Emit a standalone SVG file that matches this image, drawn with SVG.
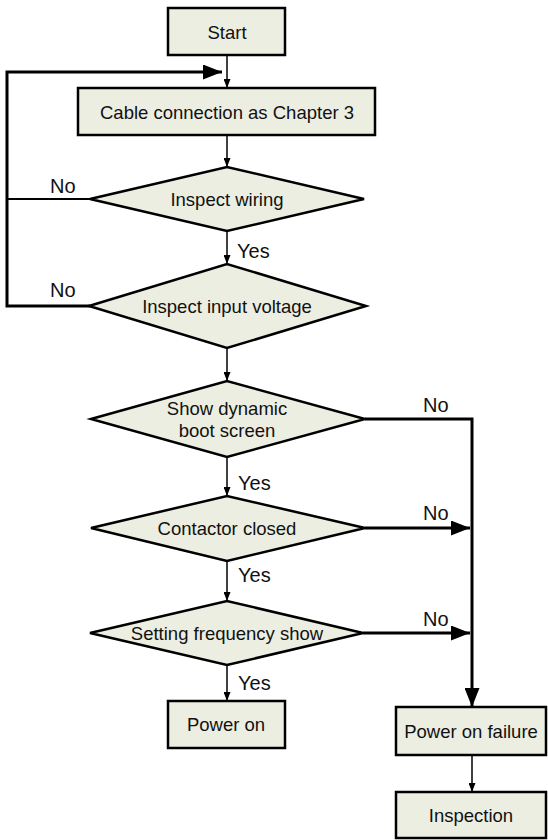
<svg xmlns="http://www.w3.org/2000/svg" width="548" height="840" viewBox="0 0 548 840">
<style>
.box{fill:#ECEEE2;stroke:#000;stroke-width:2.5}
.t{font-family:"Liberation Sans",Arial,sans-serif;font-size:18.5px;fill:#111;text-anchor:middle;dominant-baseline:central}
.lbl{font-family:"Liberation Sans",Arial,sans-serif;font-size:20px;fill:#111}
.thin{fill:none;stroke:#000;stroke-width:1.5}
.mid{fill:none;stroke:#000;stroke-width:2}
.thick{fill:none;stroke:#000;stroke-width:3}
</style>
<defs>
<marker id="sa" markerUnits="userSpaceOnUse" markerWidth="9" markerHeight="7" refX="9" refY="3.5" orient="auto"><path d="M0,0 L9,3.5 L0,7 z" fill="#000"/></marker>
<marker id="ba" markerUnits="userSpaceOnUse" markerWidth="19" markerHeight="15" refX="19" refY="7.5" orient="auto"><path d="M0,0 L19,7.5 L0,15 z" fill="#000"/></marker>
</defs>
<g id="connectors">
<path class="thin" d="M227,55 V88" marker-end="url(#sa)"/>
<path class="thick" d="M90,306 H7 V72 H222" marker-end="url(#ba)"/>
<path class="mid" d="M90,199 H7"/>
<path class="thin" d="M227,135 V167" marker-end="url(#sa)"/>
<path class="thin" d="M227,231 V264" marker-end="url(#sa)"/>
<path class="thin" d="M227,348 V381" marker-end="url(#sa)"/>
<path class="thin" d="M227,457 V496" marker-end="url(#sa)"/>
<path class="thin" d="M227,561 V601" marker-end="url(#sa)"/>
<path class="thin" d="M227,665 V701" marker-end="url(#sa)"/>
<path class="thick" d="M365,419 H472 V707" marker-end="url(#ba)"/>
<path class="thick" d="M365,528 H470" marker-end="url(#ba)"/>
<path class="thick" d="M363,633 H470" marker-end="url(#ba)"/>
<path class="thin" d="M472,755 V792" marker-end="url(#sa)"/>
<text class="lbl" x="50" y="193">No</text>
<text class="lbl" x="50" y="297">No</text>
<text class="lbl" x="237" y="258">Yes</text>
<text class="lbl" x="238" y="490">Yes</text>
<text class="lbl" x="238" y="582">Yes</text>
<text class="lbl" x="238" y="690">Yes</text>
<text class="lbl" x="423" y="412">No</text>
<text class="lbl" x="423" y="520">No</text>
<text class="lbl" x="423" y="626">No</text>
</g>
<g id="start"><rect class="box" x="168" y="8" width="117" height="47"/><text class="t" x="227" y="32">Start</text></g>
<g id="cable"><rect class="box" x="78" y="88" width="297" height="47"/><text class="t" x="227" y="112">Cable connection as Chapter 3</text></g>
<g id="inspect-wiring"><polygon class="box" points="90,199 227,167 364,199 227,231"/><text class="t" x="227" y="199">Inspect wiring</text></g>
<g id="inspect-voltage"><polygon class="box" points="89,306 227,264 366,306 227,348"/><text class="t" x="227" y="306">Inspect input voltage</text></g>
<g id="boot-screen"><polygon class="box" points="91,419 227,381 365,419 227,457"/><text class="t" x="227" y="408">Show dynamic</text><text class="t" x="227" y="430">boot screen</text></g>
<g id="contactor"><polygon class="box" points="91,528 227,496 365,528 227,561"/><text class="t" x="227" y="528">Contactor closed</text></g>
<g id="frequency"><polygon class="box" points="90,633 227,601 363,633 227,665"/><text class="t" x="227" y="633">Setting frequency show</text></g>
<g id="power-on"><rect class="box" x="168" y="701" width="117" height="47"/><text class="t" x="226" y="724">Power on</text></g>
<g id="power-failure"><rect class="box" x="396" y="707" width="150" height="48"/><text class="t" x="471" y="731">Power on failure</text></g>
<g id="inspection"><rect class="box" x="396" y="792" width="150" height="46"/><text class="t" x="471" y="815">Inspection</text></g>
</svg>
